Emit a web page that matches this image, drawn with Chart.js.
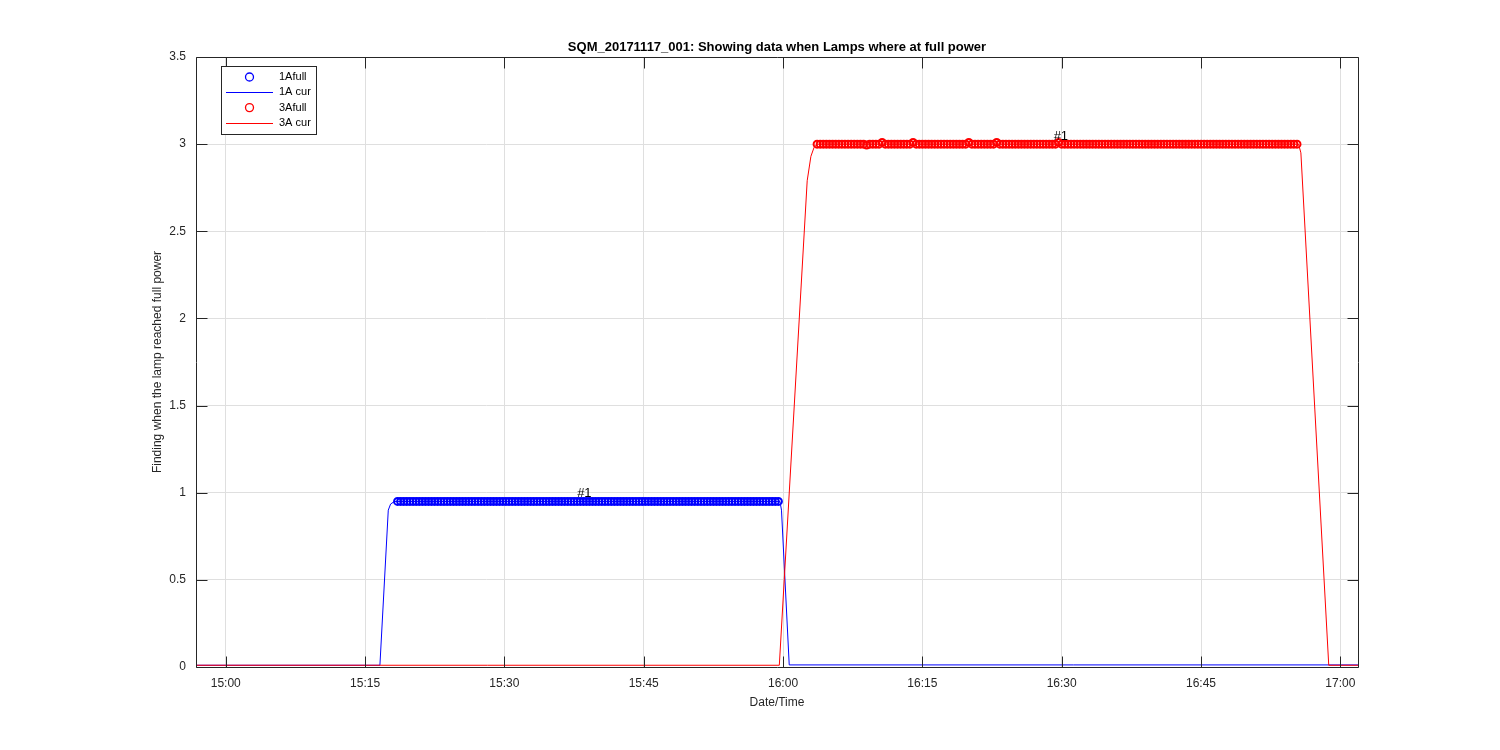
<!DOCTYPE html>
<html lang="en">
<head>
<meta charset="UTF-8">
<title>SQM_20171117_001</title>
<script src="https://cdn.jsdelivr.net/npm/chart.js"></script>
<style>
  * { margin: 0; padding: 0; box-sizing: border-box; }
  body { background: #fff; width: 1500px; height: 750px; overflow: hidden; }
  #wrap { width: 1500px; height: 750px; }
</style>
</head>
<body>
<div id="wrap"><canvas id="lampChart" width="1500" height="750"></canvas></div>
<script>
// time axis is in seconds after 15:00
const chartTitle = "SQM_20171117_001: Showing data when Lamps where at full power";
const xTitle = "Date/Time";
const yTitle = "Finding when the lamp reached full power";

const xMin = -192, xMax = 7314;
const xTicks = [0, 900, 1800, 2700, 3600, 4500, 5400, 6300, 7200];
const xTickLabels = ["15:00", "15:15", "15:30", "15:45", "16:00", "16:15", "16:30", "16:45", "17:00"];
const yMin = 0, yMax = 3.5, yStep = 0.5;

const seriesLabels = ["1Afull", "1A cur", "3Afull", "3A cur"];
const seriesColors = ["#0000ff", "#0000ff", "#ff0000", "#ff0000"];

// 1A at full power (markers)
const full1Times = [
  1110, 1130, 1150, 1170, 1190, 1210, 1230, 1250, 1270, 1290,
  1310, 1330, 1350, 1370, 1390, 1410, 1430, 1450, 1470, 1490,
  1510, 1530, 1550, 1570, 1590, 1610, 1630, 1650, 1670, 1690,
  1710, 1730, 1750, 1770, 1790, 1810, 1830, 1850, 1870, 1890,
  1910, 1930, 1950, 1970, 1990, 2010, 2030, 2050, 2070, 2090,
  2110, 2130, 2150, 2170, 2190, 2210, 2230, 2250, 2270, 2290,
  2310, 2330, 2350, 2370, 2390, 2410, 2430, 2450, 2470, 2490,
  2510, 2530, 2550, 2570, 2590, 2610, 2630, 2650, 2670, 2690,
  2710, 2730, 2750, 2770, 2790, 2810, 2830, 2850, 2870, 2890,
  2910, 2930, 2950, 2970, 2990, 3010, 3030, 3050, 3070, 3090,
  3110, 3130, 3150, 3170, 3190, 3210, 3230, 3250, 3270, 3290,
  3310, 3330, 3350, 3370, 3390, 3410, 3430, 3450, 3470, 3490,
  3510, 3530, 3550, 3570
];
const full1Values = [
  0.95, 0.95, 0.95, 0.95, 0.95, 0.95, 0.95, 0.95, 0.95, 0.95,
  0.95, 0.95, 0.95, 0.95, 0.95, 0.95, 0.95, 0.95, 0.95, 0.95,
  0.95, 0.95, 0.95, 0.95, 0.95, 0.95, 0.95, 0.95, 0.95, 0.95,
  0.95, 0.95, 0.95, 0.95, 0.95, 0.95, 0.95, 0.95, 0.95, 0.95,
  0.95, 0.95, 0.95, 0.95, 0.95, 0.95, 0.95, 0.95, 0.95, 0.95,
  0.95, 0.95, 0.95, 0.95, 0.95, 0.95, 0.95, 0.95, 0.95, 0.95,
  0.95, 0.95, 0.95, 0.95, 0.95, 0.95, 0.95, 0.95, 0.95, 0.95,
  0.95, 0.95, 0.95, 0.95, 0.95, 0.95, 0.95, 0.95, 0.95, 0.95,
  0.95, 0.95, 0.95, 0.95, 0.95, 0.95, 0.95, 0.95, 0.95, 0.95,
  0.95, 0.95, 0.95, 0.95, 0.95, 0.95, 0.95, 0.95, 0.95, 0.95,
  0.95, 0.95, 0.95, 0.95, 0.95, 0.95, 0.95, 0.95, 0.95, 0.95,
  0.95, 0.95, 0.95, 0.95, 0.95, 0.95, 0.95, 0.95, 0.95, 0.95,
  0.95, 0.95, 0.95, 0.95
];

// 1A current
const cur1Times  = [-192, 996, 1050, 1065, 1090, 3580, 3590, 3640, 7314];
const cur1Values = [0.01, 0.01, 0.9, 0.935, 0.95, 0.95, 0.9, 0.012, 0.012];

// 3A at full power (markers)
const full3Times = [
  3820, 3840, 3860, 3880, 3900, 3920, 3940, 3960, 3980, 4000,
  4020, 4040, 4060, 4080, 4100, 4120, 4140, 4160, 4180, 4200,
  4220, 4240, 4260, 4280, 4300, 4320, 4340, 4360, 4380, 4400,
  4420, 4440, 4460, 4480, 4500, 4520, 4540, 4560, 4580, 4600,
  4620, 4640, 4660, 4680, 4700, 4720, 4740, 4760, 4780, 4800,
  4820, 4840, 4860, 4880, 4900, 4920, 4940, 4960, 4980, 5000,
  5020, 5040, 5060, 5080, 5100, 5120, 5140, 5160, 5180, 5200,
  5220, 5240, 5260, 5280, 5300, 5320, 5340, 5360, 5380, 5400,
  5420, 5440, 5460, 5480, 5500, 5520, 5540, 5560, 5580, 5600,
  5620, 5640, 5660, 5680, 5700, 5720, 5740, 5760, 5780, 5800,
  5820, 5840, 5860, 5880, 5900, 5920, 5940, 5960, 5980, 6000,
  6020, 6040, 6060, 6080, 6100, 6120, 6140, 6160, 6180, 6200,
  6220, 6240, 6260, 6280, 6300, 6320, 6340, 6360, 6380, 6400,
  6420, 6440, 6460, 6480, 6500, 6520, 6540, 6560, 6580, 6600,
  6620, 6640, 6660, 6680, 6700, 6720, 6740, 6760, 6780, 6800,
  6820, 6840, 6860, 6880, 6900, 6920
];
const full3Values = [
  3, 3, 3, 3, 3, 3, 3, 3, 3, 3,
  3, 3, 3, 3, 3, 3, 2.995, 3, 3, 3,
  3, 3.01, 3, 3, 3, 3, 3, 3, 3, 3,
  3, 3.01, 3, 3, 3, 3, 3, 3, 3, 3,
  3, 3, 3, 3, 3, 3, 3, 3, 3, 3.01,
  3, 3, 3, 3, 3, 3, 3, 3, 3.01, 3,
  3, 3, 3, 3, 3, 3, 3, 3, 3, 3,
  3, 3, 3, 3, 3, 3, 3, 3, 3.01, 3,
  3, 3, 3, 3, 3, 3, 3, 3, 3, 3,
  3, 3, 3, 3, 3, 3, 3, 3, 3, 3,
  3, 3, 3, 3, 3, 3, 3, 3, 3, 3,
  3, 3, 3, 3, 3, 3, 3, 3, 3, 3,
  3, 3, 3, 3, 3, 3, 3, 3, 3, 3,
  3, 3, 3, 3, 3, 3, 3, 3, 3, 3,
  3, 3, 3, 3, 3, 3, 3, 3, 3, 3,
  3, 3, 3, 3, 3, 3
];

// 3A current
const cur3Times  = [-192, 3576, 3756, 3780, 3800, 3820, 6930, 6945, 7125, 7314];
const cur3Values = [0.01, 0.01, 2.79, 2.93, 2.98, 3.0, 3.0, 2.95, 0.01, 0.01];

// "#1" notes
const noteTimes = [2270, 5348];
const noteValues = [0.95, 3.0];
const noteTexts = ["#1", "#1"];

const FONT = "'Liberation Sans', Arial, Helvetica, sans-serif";
const INK = "#262626";

function toPoints(xs, ys) {
  return xs.map((t, i) => ({ x: t, y: ys[i] }));
}

const matlabAxes = {
  id: "matlabAxes",
  afterDraw(chart) {
    const { ctx, chartArea: a, scales: { x, y } } = chart;
    const tickLen = 11;
    const L = Math.round(a.left) + 0.5, R = Math.round(a.right) + 0.5;
    const T = Math.round(a.top) + 0.5, B = Math.round(a.bottom) + 0.5;
    ctx.save();
    ctx.strokeStyle = INK;
    ctx.lineWidth = 1;
    ctx.beginPath();
    ctx.rect(L, T, R - L, B - T);
    x.ticks.forEach(t => {
      const px = Math.round(x.getPixelForValue(t.value)) + 0.5;
      ctx.moveTo(px, B); ctx.lineTo(px, B - tickLen);
      ctx.moveTo(px, T); ctx.lineTo(px, T + tickLen);
    });
    y.ticks.forEach(t => {
      const py = Math.round(y.getPixelForValue(t.value)) + 0.5;
      ctx.moveTo(L, py); ctx.lineTo(L + tickLen, py);
      ctx.moveTo(R, py); ctx.lineTo(R - tickLen, py);
    });
    ctx.stroke();

    // title
    ctx.fillStyle = "#000";
    ctx.font = "bold 13px " + FONT;
    ctx.textAlign = "center";
    ctx.textBaseline = "middle";
    ctx.fillText(chartTitle, (a.left + a.right) / 2, 47);

    // notes
    ctx.font = "13px " + FONT;
    ctx.textAlign = "left";
    ctx.textBaseline = "alphabetic";
    noteTexts.forEach((txt, i) => {
      ctx.fillText(txt, x.getPixelForValue(noteTimes[i]), y.getPixelForValue(noteValues[i]) - 4);
    });

    // legend
    const lx = Math.round(a.left) + 25, ly = Math.round(a.top) + 9;
    ctx.fillStyle = "#fff";
    ctx.fillRect(lx, ly, 95, 68);
    ctx.strokeStyle = INK;
    ctx.strokeRect(lx + 0.5, ly + 0.5, 95, 68);
    ctx.font = "11px " + FONT;
    ctx.textBaseline = "middle";
    seriesLabels.forEach((lab, i) => {
      const ry = ly + 11 + i * 15.3;
      ctx.strokeStyle = seriesColors[i];
      ctx.beginPath();
      if (i % 2 === 0) {
        ctx.lineWidth = 1.3;
        ctx.arc(lx + 28.5, ry, 4, 0, Math.PI * 2);
      } else {
        ctx.lineWidth = 1;
        ctx.moveTo(lx + 5, Math.round(ry) + 0.5);
        ctx.lineTo(lx + 52, Math.round(ry) + 0.5);
      }
      ctx.stroke();
      ctx.fillStyle = "#000";
      ctx.fillText(lab, lx + 58, ry);
    });
    ctx.restore();
  }
};

const markerSet = (label, xs, ys, color, order) => ({
  label, data: toPoints(xs, ys), showLine: false,
  pointStyle: "circle", pointRadius: 3.5, pointBorderWidth: 2,
  pointBorderColor: color, pointBackgroundColor: "rgba(0,0,0,0)",
  borderColor: color, order
});
const lineSet = (label, xs, ys, color, order) => ({
  label, data: toPoints(xs, ys), showLine: true,
  pointRadius: 0, borderWidth: 1, borderColor: color,
  tension: 0, fill: false, order
});

new Chart(document.getElementById("lampChart"), {
  type: "scatter",
  data: {
    datasets: [
      markerSet(seriesLabels[0], full1Times, full1Values, seriesColors[0], 3),
      lineSet(seriesLabels[1], cur1Times, cur1Values, seriesColors[1], 2),
      markerSet(seriesLabels[2], full3Times, full3Values, seriesColors[2], 1),
      lineSet(seriesLabels[3], cur3Times, cur3Values, seriesColors[3], 0)
    ]
  },
  options: {
    responsive: false,
    animation: false,
    devicePixelRatio: 1,
    events: [],
    layout: { padding: { top: 57, right: 142, left: 0, bottom: 0 } },
    plugins: {
      legend: { display: false },
      tooltip: { enabled: false },
      title: { display: false }
    },
    scales: {
      x: {
        type: "linear",
        min: xMin,
        max: xMax,
        afterBuildTicks: s => { s.ticks = xTicks.map(v => ({ value: v })); },
        afterFit: s => { s.height = 83; },
        grid: { color: "#dfdfdf", drawTicks: false },
        border: { display: false },
        ticks: {
          autoSkip: false,
          maxRotation: 0,
          padding: 9,
          color: INK,
          font: { family: FONT, size: 12 },
          callback: v => xTickLabels[xTicks.indexOf(v)]
        },
        title: {
          display: true,
          text: xTitle,
          color: INK,
          font: { family: FONT, size: 12 },
          padding: { top: 0, bottom: 40 }
        }
      },
      y: {
        min: yMin,
        max: yMax,
        afterFit: s => { s.width = 196; },
        grid: { color: "#dfdfdf", drawTicks: false },
        border: { display: false },
        ticks: {
          stepSize: yStep,
          padding: 10,
          color: INK,
          font: { family: FONT, size: 12 },
          callback: v => String(v)
        },
        title: {
          display: true,
          text: yTitle,
          color: INK,
          font: { family: FONT, size: 12 },
          padding: { top: 150, bottom: 0 }
        }
      }
    }
  },
  plugins: [matlabAxes]
});
</script>
</body>
</html>
